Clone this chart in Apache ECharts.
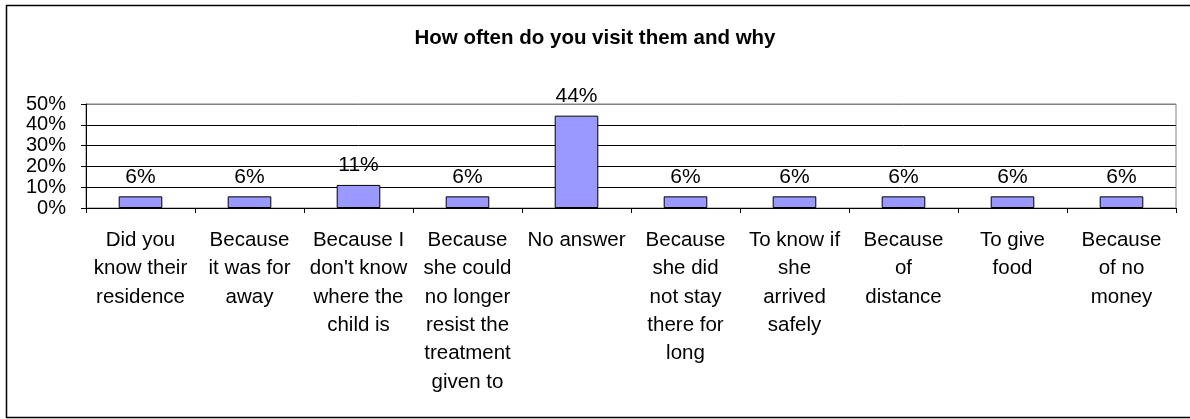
<!DOCTYPE html>
<html>
<head>
<meta charset="utf-8">
<style>
    html, body { margin: 0; padding: 0; background: #fff; }
    #chart { width: 1190px; height: 419px; }
</style>
</head>
<body>
<div id="chart"></div>
<script src="https://cdn.jsdelivr.net/npm/echarts@6/dist/echarts.min.js"></script>
<script type="text/javascript">
    const categories = [
        'Did you\nknow their\nresidence',
        'Because\nit was for\naway',
        'Because I\ndon\'t know\nwhere the\nchild is',
        'Because\nshe could\nno longer\nresist the\ntreatment\ngiven to',
        'No answer',
        'Because\nshe did\nnot stay\nthere for\nlong',
        'To know if\nshe\narrived\nsafely',
        'Because\nof\ndistance',
        'To give\nfood',
        'Because\nof no\nmoney'
    ];
    const percentages = [5.6, 5.6, 11.1, 5.6, 44.4, 5.6, 5.6, 5.6, 5.6, 5.6];
    const yTicks = [0, 10, 20, 30, 40, 50];

    const font = '"Liberation Sans", Arial, sans-serif';
    const chart = echarts.init(document.getElementById('chart'));

    chart.setOption({
        animation: false,
        title: {
            text: 'How often do you visit them and why',
            left: 'center',
            top: 23,
            textStyle: { fontFamily: font, fontSize: 20.5, fontWeight: 'bold', color: '#000' }
        },
        graphic: [{
            type: 'rect',
            shape: { x: 6.5, y: 5.5, width: 1200, height: 412 },
            style: { fill: 'none', stroke: '#000', lineWidth: 1.5 },
            silent: true
        }],
        grid: {
            left: 86, right: 14, top: 104, height: 104,
            show: true, borderColor: '#808080', borderWidth: 1,
            containLabel: false
        },
        xAxis: {
            type: 'category',
            data: categories,
            axisLine: { lineStyle: { color: '#000', width: 1 } },
            axisTick: { show: true, length: 5, lineStyle: { color: '#000' } },
            axisLabel: {
                interval: 0,
                margin: 18,
                fontFamily: font,
                fontSize: 20.5,
                lineHeight: 28.4,
                color: '#000',
                align: 'center'
            }
        },
        yAxis: {
            type: 'value',
            min: yTicks[0],
            max: yTicks[yTicks.length - 1],
            interval: 10,
            axisLine: { show: true, lineStyle: { color: '#000', width: 1 } },
            axisTick: { show: true, length: 5, lineStyle: { color: '#000' } },
            axisLabel: {
                formatter: '{value}%',
                margin: 20,
                showMinLabel: true,
                showMaxLabel: true,
                hideOverlap: false,
                fontFamily: font,
                fontSize: 20,
                lineHeight: 16,
                color: '#000'
            },
            splitLine: {
                show: true,
                lineStyle: { color: ['#000', '#000', '#000', '#000', '#000', '#808080'], width: 1 }
            }
        },
        series: [{
            type: 'bar',
            data: percentages,
            barWidth: '40%',
            itemStyle: { color: '#9999FF', borderColor: '#000', borderWidth: 1 },
            label: {
                show: true,
                position: 'top',
                distance: 9,
                fontFamily: font,
                fontSize: 21,
                color: '#000',
                formatter: p => Math.round(p.value) + '%'
            }
        }]
    });
</script>
</body>
</html>
